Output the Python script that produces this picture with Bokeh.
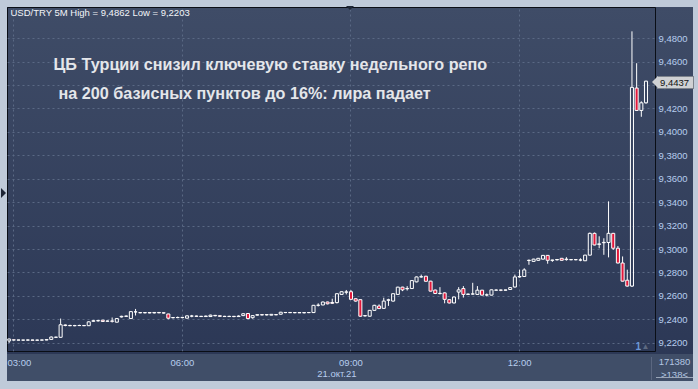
from bokeh.plotting import figure
from bokeh.layouts import column, row
from bokeh.models import FixedTicker, Label, Spacer, ColumnDataSource, Range1d, LinearAxis, Div
from bokeh.embed import file_html
from bokeh.resources import INLINE

# ---------------- data (USD/TRY, 5-minute bars, 21 Oct 2021) ----------------
bar_time = ["02:50", "02:55"] + ["%02d:%02d" % divmod(180 + 5 * k, 60) for k in range(136)]

open_ = [9.2230, 9.2220, 9.2229, 9.2228, 9.2227, 9.2227, 9.2228, 9.2226, 9.2227, 9.2228,
         9.2233, 9.2252, 9.2251, 9.2356, 9.2352, 9.2350, 9.2351, 9.2352, 9.2350, 9.2388,
         9.2392, 9.2397, 9.2388, 9.2390, 9.2380, 9.2425, 9.2430, 9.2411, 9.2468, 9.2462,
         9.2460, 9.2462, 9.2459, 9.2463, 9.2460, 9.2450, 9.2418, 9.2420, 9.2419, 9.2414,
         9.2432, 9.2432, 9.2430, 9.2428, 9.2428, 9.2438, 9.2435, 9.2430, 9.2428, 9.2430,
         9.2428, 9.2436, 9.2454, 9.2418, 9.2440, 9.2444, 9.2442, 9.2440, 9.2445, 9.2448,
         9.2462, 9.2463, 9.2461, 9.2462, 9.2460, 9.2462, 9.2462, 9.2524, 9.2527, 9.2552,
         9.2548, 9.2547, 9.2617, 9.2636, 9.2640, 9.2580, 9.2572, 9.2434, 9.2431, 9.2481,
         9.2518, 9.2498, 9.2567, 9.2560, 9.2617, 9.2679, 9.2665, 9.2667, 9.2724, 9.2766,
         9.2772, 9.2730, 9.2654, 9.2624, 9.2630, 9.2572, 9.2544, 9.2637, 9.2667, 9.2617,
         9.2620, 9.2617, 9.2653, 9.2612, 9.2611, 9.2653, 9.2654, 9.2653, 9.2659, 9.2680,
         9.2766, 9.2770, 9.2906, 9.2899, 9.2908, 9.2918, 9.2950, 9.2908, 9.2912, 9.2925,
         9.2918, 9.2913, 9.2914, 9.2910, 9.2904, 9.2952, 9.3138, 9.3044, 9.3058, 9.3060,
         9.3138, 9.3011, 9.2885, 9.2738, 9.2688, 9.4378, 9.4187, 9.4252]

high = [9.2240, 9.2240, 9.2231, 9.2230, 9.2229, 9.2232, 9.2230, 9.2231, 9.2230, 9.2236,
        9.2258, 9.2256, 9.2411, 9.2360, 9.2358, 9.2357, 9.2358, 9.2356, 9.2388, 9.2398,
        9.2399, 9.2400, 9.2394, 9.2420, 9.2415, 9.2435, 9.2437, 9.2474, 9.2493, 9.2466,
        9.2465, 9.2467, 9.2466, 9.2467, 9.2464, 9.2452, 9.2424, 9.2428, 9.2424, 9.2438,
        9.2442, 9.2436, 9.2434, 9.2436, 9.2444, 9.2442, 9.2438, 9.2434, 9.2435, 9.2433,
        9.2438, 9.2456, 9.2456, 9.2440, 9.2446, 9.2448, 9.2447, 9.2449, 9.2448, 9.2468,
        9.2466, 9.2467, 9.2465, 9.2466, 9.2464, 9.2465, 9.2527, 9.2541, 9.2556, 9.2555,
        9.2580, 9.2626, 9.2643, 9.2655, 9.2654, 9.2585, 9.2575, 9.2440, 9.2484, 9.2528,
        9.2532, 9.2589, 9.2580, 9.2626, 9.2682, 9.2682, 9.2688, 9.2738, 9.2770, 9.2786,
        9.2775, 9.2733, 9.2658, 9.2679, 9.2634, 9.2575, 9.2598, 9.2679, 9.2688, 9.2624,
        9.2716, 9.2688, 9.2656, 9.2625, 9.2659, 9.2660, 9.2658, 9.2657, 9.2680, 9.2786,
        9.2828, 9.2840, 9.2915, 9.2921, 9.2928, 9.2953, 9.2953, 9.2912, 9.2918, 9.2928,
        9.2935, 9.2917, 9.2918, 9.2925, 9.2955, 9.3145, 9.3145, 9.3113, 9.3096, 9.3411,
        9.3142, 9.3030, 9.2941, 9.2828, 9.4862, 9.4590, 9.4265, 9.4440]

low = [9.2222, 9.2203, 9.2224, 9.2225, 9.2224, 9.2223, 9.2225, 9.2224, 9.2225, 9.2226,
       9.2230, 9.2248, 9.2248, 9.2345, 9.2346, 9.2345, 9.2347, 9.2346, 9.2348, 9.2384,
       9.2385, 9.2383, 9.2384, 9.2377, 9.2378, 9.2420, 9.2424, 9.2409, 9.2437, 9.2456,
       9.2455, 9.2456, 9.2455, 9.2456, 9.2454, 9.2405, 9.2412, 9.2414, 9.2413, 9.2412,
       9.2422, 9.2425, 9.2424, 9.2425, 9.2426, 9.2430, 9.2426, 9.2424, 9.2425, 9.2422,
       9.2426, 9.2432, 9.2405, 9.2410, 9.2436, 9.2438, 9.2437, 9.2438, 9.2439, 9.2445,
       9.2457, 9.2458, 9.2456, 9.2458, 9.2455, 9.2457, 9.2458, 9.2514, 9.2525, 9.2532,
       9.2535, 9.2540, 9.2615, 9.2617, 9.2572, 9.2555, 9.2425, 9.2428, 9.2428, 9.2478,
       9.2493, 9.2495, 9.2519, 9.2556, 9.2614, 9.2645, 9.2650, 9.2663, 9.2720, 9.2760,
       9.2726, 9.2642, 9.2620, 9.2617, 9.2541, 9.2540, 9.2541, 9.2575, 9.2590, 9.2612,
       9.2615, 9.2614, 9.2608, 9.2600, 9.2608, 9.2650, 9.2645, 9.2649, 9.2656, 9.2676,
       9.2760, 9.2766, 9.2870, 9.2896, 9.2905, 9.2915, 9.2879, 9.2895, 9.2906, 9.2905,
       9.2905, 9.2908, 9.2908, 9.2900, 9.2902, 9.2950, 9.3036, 9.3011, 9.2955, 9.2933,
       9.2997, 9.2882, 9.2727, 9.2684, 9.2680, 9.4184, 9.4133, 9.4245]

close = [9.2236, 9.2236, 9.2228, 9.2227, 9.2227, 9.2228, 9.2226, 9.2227, 9.2228, 9.2231,
         9.2253, 9.2251, 9.2358, 9.2352, 9.2350, 9.2351, 9.2352, 9.2350, 9.2383, 9.2392,
         9.2393, 9.2386, 9.2390, 9.2388, 9.2411, 9.2430, 9.2432, 9.2470, 9.2468, 9.2460,
         9.2462, 9.2459, 9.2463, 9.2460, 9.2458, 9.2414, 9.2420, 9.2419, 9.2421, 9.2434,
         9.2432, 9.2430, 9.2428, 9.2432, 9.2440, 9.2435, 9.2430, 9.2428, 9.2430, 9.2428,
         9.2432, 9.2452, 9.2411, 9.2436, 9.2444, 9.2442, 9.2445, 9.2447, 9.2443, 9.2465,
         9.2463, 9.2461, 9.2462, 9.2460, 9.2462, 9.2462, 9.2524, 9.2525, 9.2552, 9.2537,
         9.2541, 9.2623, 9.2640, 9.2638, 9.2575, 9.2560, 9.2431, 9.2436, 9.2481, 9.2524,
         9.2496, 9.2560, 9.2571, 9.2623, 9.2679, 9.2656, 9.2668, 9.2735, 9.2766, 9.2768,
         9.2729, 9.2645, 9.2625, 9.2626, 9.2575, 9.2544, 9.2595, 9.2656, 9.2617, 9.2620,
         9.2621, 9.2653, 9.2611, 9.2613, 9.2656, 9.2654, 9.2653, 9.2655, 9.2675, 9.2766,
         9.2770, 9.2826, 9.2908, 9.2918, 9.2925, 9.2950, 9.2908, 9.2910, 9.2915, 9.2908,
         9.2914, 9.2914, 9.2913, 9.2911, 9.2952, 9.3138, 9.3039, 9.3048, 9.3061, 9.3138,
         9.3011, 9.2885, 9.2730, 9.2688, 9.4384, 9.4187, 9.4252, 9.4437]

x_tick_bars = [0, 36, 72, 108]
x_tick_labels = ["03:00", "06:00", "09:00", "12:00"]
y_tick_values = [9.22, 9.24, 9.26, 9.28, 9.30, 9.32, 9.34, 9.36, 9.38, 9.40, 9.42, 9.44, 9.46, 9.48]
y_tick_labels = ["9,2200", "9,2400", "9,2600", "9,2800", "9,3000", "9,3200", "9,3400",
                 "9,3600", "9,3800", "9,4000", "9,4200", "9,4400", "9,4600", "9,4800"]
date_bar = [69]
date_labels = ["21.окт.21"]

title_text = "USD/TRY 5M High = 9,4862 Low = 9,2203"
headline_1 = "ЦБ Турции снизил ключевую ставку недельного репо"
headline_2 = "на 200 базисных пунктов до 16%: лира падает"
last_price_text = "9,4437"
bars_total_text = "171380"
bars_visible_text = "&gt;138&lt;"

# ---------------- geometry helpers (page pixels -> data units) ----------------
BAR0_PX, BAR_PX = 13.3, 4.683
Y922_PX, PX_PER_UNIT = 345.7, 1182.0


def dx(px):
    return (px - BAR0_PX) / BAR_PX


def dy(py):
    return 9.22 + (Y922_PX - py) / PX_PER_UNIT


bars = list(range(-2, -2 + len(open_)))
top = [max(o, c) for o, c in zip(open_, close)]
bottom = [min(o, c) for o, c in zip(open_, close)]
up = [c >= o for o, c in zip(open_, close)]

src = ColumnDataSource(dict(bar=bars, time=bar_time, open=open_, high=high, low=low,
                            close=close, top=top, bottom=bottom))
src_up = ColumnDataSource(dict(bar=[b for b, u in zip(bars, up) if u],
                               top=[t for t, u in zip(top, up) if u],
                               bottom=[b for b, u in zip(bottom, up) if u]))
src_dn = ColumnDataSource(dict(bar=[b for b, u in zip(bars, up) if not u],
                               top=[t for t, u in zip(top, up) if not u],
                               bottom=[b for b, u in zip(bottom, up) if not u]))

FONT = "Liberation Sans"
TICK_COLOR = "#b7cdee"

p = figure(width=686, height=374, output_backend="svg", toolbar_location=None,
           x_range=Range1d(dx(7), dx(655)), y_range=Range1d(dy(354), dy(7)),
           y_axis_location="right", min_border_left=0, min_border_top=0,
           min_border_right=38, min_border_bottom=27,
           styles={"background": "linear-gradient(to bottom, #3f4c67 0px, #2c3856 347px, "
                                 "#404e68 347px, #404e68 100%)"})
p.background_fill_alpha = 0
p.border_fill_alpha = 0
p.outline_line_color = "#0a0e16"
p.outline_line_width = 1

# axes
xax = p.xaxis[0]
yax = p.yaxis[0]
xax.ticker = FixedTicker(ticks=x_tick_bars)
xax.major_label_overrides = dict(zip(x_tick_bars, x_tick_labels))
yax.ticker = FixedTicker(ticks=y_tick_values)
yax.major_label_overrides = dict(zip(y_tick_values, y_tick_labels))

date_axis = LinearAxis(ticker=FixedTicker(ticks=date_bar),
                       major_label_overrides=dict(zip(date_bar, date_labels)))
p.add_layout(date_axis, "below")

for ax in (xax, yax, date_axis):
    ax.axis_line_color = None
    ax.major_tick_line_color = None
    ax.minor_tick_line_color = None
    ax.major_tick_out = 0
    ax.major_tick_in = 0
    ax.minor_tick_out = 0
    ax.major_label_text_font = FONT
    ax.major_label_text_font_size = "9.5px"
    ax.major_label_text_color = TICK_COLOR
    ax.major_label_standoff = 3
xax.major_label_standoff = 5
try:
    date_axis.major_label_standoff = -3
except Exception:
    date_axis.major_label_standoff = 0

for g in (p.xgrid, p.ygrid):
    g.grid_line_color = "#5a6984"
    g.grid_line_dash = "2 3"
    g.grid_line_width = 1

# candles: wicks then bodies
p.segment(x0="bar", y0="high", x1="bar", y1="top", source=src, line_color="white", line_width=1)
p.segment(x0="bar", y0="bottom", x1="bar", y1="low", source=src, line_color="white", line_width=1)
p.vbar(x="bar", width=0.65, top="top", bottom="bottom", source=src_up,
       fill_alpha=0, line_color="white", line_width=1)
p.vbar(x="bar", width=0.65, top="top", bottom="bottom", source=src_dn,
       fill_color="#e2173a", line_color="white", line_width=1)

# texts inside the chart
p.add_layout(Label(x=dx(10), y=dy(17.7), text=title_text, text_font=FONT,
                   text_font_size="9.5px", text_color="#f2f4f8"))
p.add_layout(Label(x=dx(53), y=dy(72.7), text=headline_1, text_font=FONT,
                   text_font_size="16.2px", text_font_style="bold", text_color="#e4e6ea"))
p.add_layout(Label(x=dx(58), y=dy(102.3), text=headline_2, text_font=FONT,
                   text_font_size="16.2px", text_font_style="bold", text_color="#e4e6ea"))
p.add_layout(Label(x=dx(635), y=dy(352), text="1", text_font=FONT, text_font_size="10px",
                   text_font_style="bold", text_color="#6d98d8"))
p.add_layout(Label(x=dx(641), y=dy(353), text="▲", text_font=FONT, text_font_size="8px",
                   text_color="#5d6981"))


# overlay pieces outside the plot frame (page pixel positions)
def overlay(html, left, top, **css):
    st = {"position": "absolute", "left": "%dpx" % left, "top": "%dpx" % top,
          "z-index": "10", "overflow": "visible", "padding": "0",
          "font-family": "'Liberation Sans', Arial, sans-serif", "font-size": "9.5px",
          "white-space": "nowrap"}
    st.update(css)
    return Div(text=html, margin=0, styles=st)


def triangle(direction, size, color):
    t = "transparent"
    if direction == "down":
        css = "border-left:%dpx solid %s;border-right:%dpx solid %s;border-top:%dpx solid %s;" % (
            size, t, size, t, size, color)
    elif direction == "up":
        css = "border-left:%dpx solid %s;border-right:%dpx solid %s;border-bottom:%dpx solid %s;" % (
            size, t, size, t, size, color)
    elif direction == "right":
        css = "border-top:%dpx solid %s;border-bottom:%dpx solid %s;border-left:%dpx solid %s;" % (
            size, t, size, t, size, color)
    else:
        css = "border-top:%dpx solid %s;border-bottom:%dpx solid %s;border-right:%dpx solid %s;" % (
            size, t, size, t, size, color)
    return '<div style="width:0;height:0;%s"></div>' % css


pieces = [
    overlay(last_price_text, 657, 76, **{
        "background-color": "#cfd1d4", "border": "1px solid #7d838c", "color": "#111111",
        "line-height": "11px", "height": "11px", "padding": "0 4px 0 2px",
        "box-sizing": "content-box"}),
    overlay(triangle("left", 6, "#cfd1d4"), 652, 76),
    overlay(bars_total_text, 656, 356, **{
        "color": "#b3c6e2", "line-height": "11px", "width": "37px", "text-align": "center"}),
    overlay(bars_visible_text, 656, 369, **{
        "color": "#b3c6e2", "line-height": "11px", "width": "37px", "text-align": "center"}),
    overlay('<div style="width:37px;height:0;border-top:1px solid #9aa6b8;"></div>', 656, 368),
    overlay('<div style="width:0;height:23px;border-left:1px solid #5b6780;"></div>', 651, 357),
    overlay(triangle("down", 4, "#1d2535"), 346, 0),
    overlay(triangle("right", 5, "#1d2535"), 1, 188),
    overlay(triangle("up", 4, "#1d2535"), 0, 385),
    overlay(triangle("up", 4, "#1d2535"), 347, 385),
]

root = column(Spacer(width=698, height=7),
              row(Spacer(width=7, height=374), p),
              *pieces,
              width=698, height=389,
              styles={"background-color": "#bfcad9", "position": "relative",
                      "overflow": "hidden"})

open("out.html", "w").write(file_html(root, INLINE))
